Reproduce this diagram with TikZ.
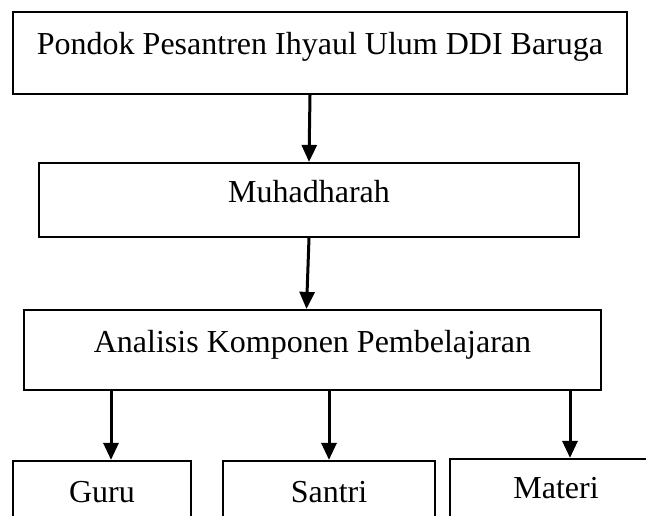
\documentclass[tikz,border=0pt]{standalone}
\usepackage{fontspec}
\setmainfont{Liberation Serif}
\usepackage{tikz}
\usetikzlibrary{arrows.meta, positioning}

\begin{document}
\begin{tikzpicture}[x=1pt, y=-1pt]
		\tikzset{
			box/.style={rectangle, draw, line width=2.2pt, inner sep=0pt, anchor=base,
			font=\fontsize{32}{38}\selectfont},
			arr/.style={line width=3pt, -{Triangle[width=15pt, length=17pt]}},
		}
		\useasboundingbox (0,0) rectangle (646,516);

		\node[box, minimum width=614pt, text height=43pt, text depth=39pt](pondok) at (320,55){Pondok Pesantren Ihyaul Ulum DDI Baruga};
		\node[box, minimum width=540pt, text height=40pt, text depth=34pt](muh) at (309,203){Muhadharah};
		\node[box, minimum width=577pt, text height=42pt, text depth=38pt](ana) at (312.5,352){Analisis Komponen Pembelajaran};

		\node[box, minimum width=178pt, text height=41pt, text depth=40pt](guru) at (102,502){Guru};
		\node[box, minimum width=212pt, text height=41pt, text depth=40pt](santri) at (329,502){Santri};
		\node[box, minimum width=212pt, text height=39pt, text depth=44pt](materi) at (556,498){Materi};

		\draw[arr]([xshift=-10pt]pondok.south) -- (muh.north);
		\draw[arr](muh.south) -- ([xshift=-6pt]ana.north);

		\draw[arr]([xshift=9pt]guru.north |- ana.south) -- ([xshift=9pt]guru.north);
		\draw[arr](santri.north |- ana.south) -- (santri.north);
		\draw[arr]([xshift=14pt]materi.north |- ana.south) -- ([xshift=14pt]materi.north);

	\end{tikzpicture}
\end{document}
